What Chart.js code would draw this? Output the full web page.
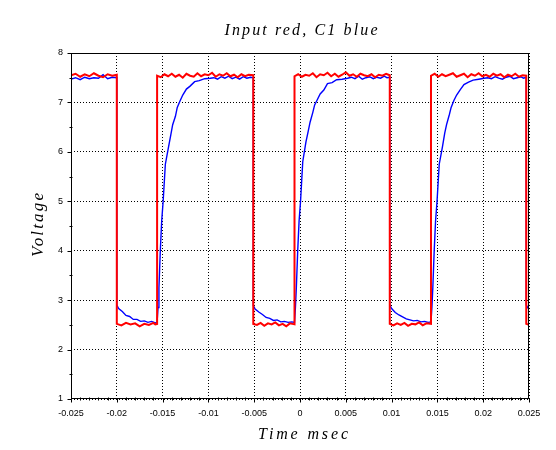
<!DOCTYPE html>
<html>
<head>
<meta charset="utf-8">
<script src="https://cdn.jsdelivr.net/npm/chart.js@4"></script>
<style>
  body { margin: 0; background: #fff; }
  canvas { display: block; }
</style>
</head>
<body>
<canvas id="scope" width="556" height="450"></canvas>
<script>
// tick values shown on the axes
const xTicks = [-0.025, -0.02, -0.015, -0.01, -0.005, 0, 0.005, 0.01, 0.015, 0.02, 0.025];
const yTicks = [1, 2, 3, 4, 5, 6, 7, 8];

// input square wave (red), one line per segment
const inputTime = [
  -0.025, -0.0245, -0.024, -0.0235, -0.023, -0.0225, -0.022, -0.0215, -0.021, -0.0205, -0.0200,
  -0.0200, -0.0195, -0.019, -0.0185, -0.018, -0.0175, -0.017, -0.0165, -0.016, -0.0158, -0.0156,
  -0.0156, -0.0152, -0.0148, -0.0144, -0.014, -0.0136, -0.0132, -0.0128, -0.0124, -0.012, -0.0116, -0.0112, -0.0108, -0.0104, -0.01, -0.0096, -0.0092, -0.0088, -0.0084, -0.008, -0.0076, -0.0072, -0.0068, -0.0064, -0.006, -0.0056, -0.0051,
  -0.0051, -0.0047, -0.0043, -0.0039, -0.0035, -0.0031, -0.0027, -0.0023, -0.0019, -0.0015, -0.0011, -0.0006,
  -0.0006, -0.0002, 0.0002, 0.0006, 0.001, 0.0014, 0.0018, 0.0022, 0.0026, 0.003, 0.0034, 0.0038, 0.0042, 0.0046, 0.005, 0.0054, 0.0058, 0.0062, 0.0066, 0.007, 0.0074, 0.0078, 0.0082, 0.0086, 0.009, 0.0094, 0.0098,
  0.0098, 0.0102, 0.0106, 0.011, 0.0114, 0.0118, 0.0122, 0.0126, 0.013, 0.0134, 0.0138, 0.0143,
  0.0143, 0.0147, 0.0151, 0.0155, 0.0159, 0.0163, 0.0167, 0.0171, 0.0175, 0.0179, 0.0183, 0.0187, 0.0191, 0.0195, 0.0199, 0.0203, 0.0207, 0.0211, 0.0215, 0.0219, 0.0223, 0.0227, 0.0231, 0.0235, 0.0239, 0.0243, 0.0247,
  0.0247, 0.025
];
const inputVolt = [
  7.55, 7.58, 7.52, 7.57, 7.53, 7.59, 7.54, 7.51, 7.57, 7.54, 7.56,
  2.52, 2.49, 2.54, 2.51, 2.53, 2.47, 2.52, 2.50, 2.54, 2.51, 2.52,
  7.54, 7.51, 7.57, 7.53, 7.58, 7.52, 7.56, 7.50, 7.58, 7.54, 7.52, 7.59, 7.53, 7.57, 7.55, 7.60, 7.52, 7.57, 7.54, 7.59, 7.53, 7.56, 7.51, 7.57, 7.53, 7.56, 7.55,
  2.52, 2.50, 2.54, 2.48, 2.53, 2.51, 2.55, 2.49, 2.52, 2.47, 2.53, 2.51,
  7.53, 7.57, 7.52, 7.56, 7.54, 7.59, 7.51, 7.57, 7.55, 7.60, 7.53, 7.58, 7.52, 7.56, 7.61, 7.54, 7.57, 7.52, 7.58, 7.55, 7.53, 7.57, 7.51, 7.56, 7.54, 7.58, 7.55,
  2.52, 2.49, 2.53, 2.50, 2.54, 2.48, 2.52, 2.51, 2.55, 2.49, 2.53, 2.52,
  7.54, 7.58, 7.52, 7.57, 7.53, 7.56, 7.59, 7.52, 7.55, 7.58, 7.51, 7.57, 7.54, 7.59, 7.53, 7.56, 7.52, 7.58, 7.54, 7.57, 7.51, 7.56, 7.53, 7.58, 7.52, 7.55, 7.54,
  2.52, 2.50
];

// capacitor C1 voltage (blue)
const c1Time = [
  -0.025, -0.0245, -0.024, -0.0235, -0.023, -0.0225, -0.022, -0.0215, -0.021, -0.0205, -0.0200,
  -0.0200, -0.0198, -0.0194, -0.019, -0.0186, -0.0182, -0.0178, -0.0174, -0.017, -0.0166, -0.0162, -0.0158, -0.0156,
  -0.0156, -0.0155, -0.0154, -0.01525, -0.0151, -0.01494, -0.0147, -0.01435, -0.0141, -0.0139, -0.0136, -0.0134, -0.0131, -0.0128, -0.0124, -0.012, -0.0115, -0.011, -0.0104, -0.0098,
  -0.0094, -0.009, -0.0086, -0.0082, -0.0078, -0.0074, -0.007, -0.0066, -0.0062, -0.0058, -0.0054, -0.0051,
  -0.0051, -0.0049, -0.0045, -0.0041, -0.0037, -0.0033, -0.0029, -0.0025, -0.0021, -0.0017, -0.0013, -0.0009, -0.0006,
  -0.0006, -0.0005, -0.0004, -0.00025, -0.0001, 0.00006, 0.0003, 0.00065, 0.0009, 0.0011, 0.0014, 0.0016, 0.0019, 0.0022, 0.0026, 0.003, 0.0035, 0.004, 0.0046, 0.0052,
  0.0056, 0.006, 0.0064, 0.0068, 0.0072, 0.0076, 0.008, 0.0084, 0.0088, 0.0092, 0.0095, 0.0098,
  0.0098, 0.01, 0.0104, 0.0108, 0.0112, 0.0116, 0.012, 0.0124, 0.0128, 0.0132, 0.0136, 0.014, 0.0143,
  0.0143, 0.0144, 0.0145, 0.01465, 0.0148, 0.01496, 0.0152, 0.01555, 0.0158, 0.016, 0.0163, 0.0165, 0.0168, 0.0171, 0.0175, 0.0179, 0.0184, 0.0189, 0.0195, 0.0201,
  0.0205, 0.0209, 0.0213, 0.0217, 0.0221, 0.0225, 0.0229, 0.0233, 0.0237, 0.0241, 0.0244, 0.0247,
  0.0247, 0.0249, 0.025
];
const c1Volt = [
  7.47, 7.50, 7.46, 7.51, 7.48, 7.50, 7.49, 7.56, 7.48, 7.51, 7.50,
  2.90, 2.83, 2.77, 2.69, 2.67, 2.61, 2.61, 2.57, 2.58, 2.55, 2.57, 2.54, 2.55,
  2.55, 2.85, 3.25, 4.0, 4.6, 5.0, 5.75, 6.1, 6.35, 6.55, 6.72, 6.9, 7.03, 7.15, 7.27, 7.33, 7.42, 7.44, 7.48, 7.49,
  7.50, 7.47, 7.52, 7.49, 7.53, 7.48, 7.51, 7.47, 7.52, 7.49, 7.51, 7.50,
  2.89, 2.82, 2.76, 2.71, 2.65, 2.63, 2.59, 2.60, 2.56, 2.57, 2.55, 2.56, 2.55,
  2.55, 2.85, 3.25, 4.0, 4.6, 5.0, 5.8, 6.2, 6.42, 6.6, 6.8, 6.95, 7.06, 7.17, 7.25, 7.38, 7.40, 7.46, 7.47, 7.49,
  7.51, 7.48, 7.53, 7.47, 7.50, 7.52, 7.48, 7.51, 7.49, 7.53, 7.50, 7.51,
  2.90, 2.83, 2.75, 2.70, 2.66, 2.62, 2.60, 2.58, 2.59, 2.56, 2.57, 2.55, 2.56,
  2.56, 2.85, 3.25, 4.0, 4.6, 5.0, 5.75, 6.1, 6.38, 6.55, 6.75, 6.9, 7.04, 7.15, 7.26, 7.36, 7.41, 7.45, 7.47, 7.49,
  7.50, 7.48, 7.52, 7.49, 7.47, 7.51, 7.53, 7.48, 7.50, 7.52, 7.49, 7.51,
  2.90, 2.84, 2.81
];

function toPoints(ts, vs) {
  return ts.map((t, i) => ({ x: t, y: vs[i] }));
}

// draws text so that it spans a given width (latex-ish wide spacing)
function spreadText(ctx, text, cx, y, width) {
  ctx.letterSpacing = "0px";
  const w0 = ctx.measureText(text).width;
  ctx.letterSpacing = (width - w0) / (text.length - 1) + "px";
  ctx.textAlign = "left";
  ctx.fillText(text, cx - width / 2, y);
  ctx.letterSpacing = "0px";
}

const scopeDecor = {
  id: "scopeDecor",
  beforeDraw(chart) {
    const ctx = chart.ctx;
    ctx.save();
    ctx.fillStyle = "#fff";
    ctx.fillRect(0, 0, chart.width, chart.height);
    ctx.restore();
  },
  afterDraw(chart) {
    const { ctx, chartArea: a } = chart;
    const x = chart.scales.x, y = chart.scales.y;
    ctx.save();
    ctx.strokeStyle = "#000";
    ctx.lineWidth = 1;
    const L = Math.round(a.left) + 0.5, R = Math.round(a.right) - 0.5;
    const T = Math.round(a.top) + 0.5, B = Math.round(a.bottom) - 0.5;
    ctx.strokeRect(L, T, R - L, B - T);

    ctx.beginPath();
    // x ticks, 4 minor between majors
    xTicks.forEach((v, i) => {
      const px = Math.round(x.getPixelForValue(v)) + 0.5;
      ctx.moveTo(px, B); ctx.lineTo(px, B + 4);
      if (i < xTicks.length - 1) {
        for (let k = 1; k < 5; k++) {
          const m = Math.round(x.getPixelForValue(v + (xTicks[i + 1] - v) * k / 5)) + 0.5;
          ctx.moveTo(m, B - 1); ctx.lineTo(m, B + 2);
        }
      }
    });
    // y ticks, 1 minor between majors
    yTicks.forEach((v, i) => {
      const py = Math.round(y.getPixelForValue(v)) + 0.5;
      ctx.moveTo(L, py); ctx.lineTo(L - 4, py);
      if (i < yTicks.length - 1) {
        const m = Math.round(y.getPixelForValue((v + yTicks[i + 1]) / 2)) + 0.5;
        ctx.moveTo(L + 1, m); ctx.lineTo(L - 2, m);
      }
    });
    ctx.stroke();

    // titles
    ctx.fillStyle = "#000";
    ctx.textBaseline = "alphabetic";
    ctx.font = "italic 16px 'Liberation Serif'";
    spreadText(ctx, "Input red, C1 blue", 301, 35, 153);
    spreadText(ctx, "Time msec", 303, 439, 90);
    ctx.font = "italic 17px 'Liberation Serif'";
    ctx.translate(43, 225);
    ctx.rotate(-Math.PI / 2);
    spreadText(ctx, "Voltage", 0, 0, 64);
    ctx.restore();
  }
};

const tickFont = { family: "'Liberation Sans', Arial, sans-serif", size: 9 };

new Chart(document.getElementById("scope"), {
  type: "line",
  data: {
    datasets: [
      {
        label: "Input",
        data: toPoints(inputTime, inputVolt),
        borderColor: "#ff0000",
        borderWidth: 2,
        pointRadius: 0,
        tension: 0,
        order: 0
      },
      {
        label: "C1",
        data: toPoints(c1Time, c1Volt),
        borderColor: "#0000ff",
        borderWidth: 1.4,
        pointRadius: 0,
        tension: 0,
        order: 1
      }
    ]
  },
  options: {
    responsive: false,
    animation: false,
    layout: { padding: { left: 0, right: 27, top: 53, bottom: 0 } },
    plugins: {
      legend: { display: false },
      title: { display: false },
      tooltip: { enabled: false }
    },
    scales: {
      x: {
        type: "linear",
        min: -0.025,
        max: 0.025,
        afterBuildTicks: (s) => { s.ticks = xTicks.map((v) => ({ value: v })); },
        afterFit: (s) => { s.height = 51; },
        ticks: {
          font: tickFont,
          color: "#000",
          padding: 9,
          maxRotation: 0,
          autoSkip: false,
          callback: (v) => String(v)
        },
        grid: { color: "#000", lineWidth: 1, drawTicks: false },
        border: { display: false, dash: [1, 2] }
      },
      y: {
        min: 1,
        max: 8,
        afterBuildTicks: (s) => { s.ticks = yTicks.map((v) => ({ value: v })); },
        afterFit: (s) => { s.width = 71; },
        ticks: {
          font: tickFont,
          color: "#000",
          padding: 8,
          callback: (v) => String(v)
        },
        grid: { color: "#000", lineWidth: 1, drawTicks: false },
        border: { display: false, dash: [1, 2] }
      }
    }
  },
  plugins: [scopeDecor]
});
</script>
</body>
</html>
